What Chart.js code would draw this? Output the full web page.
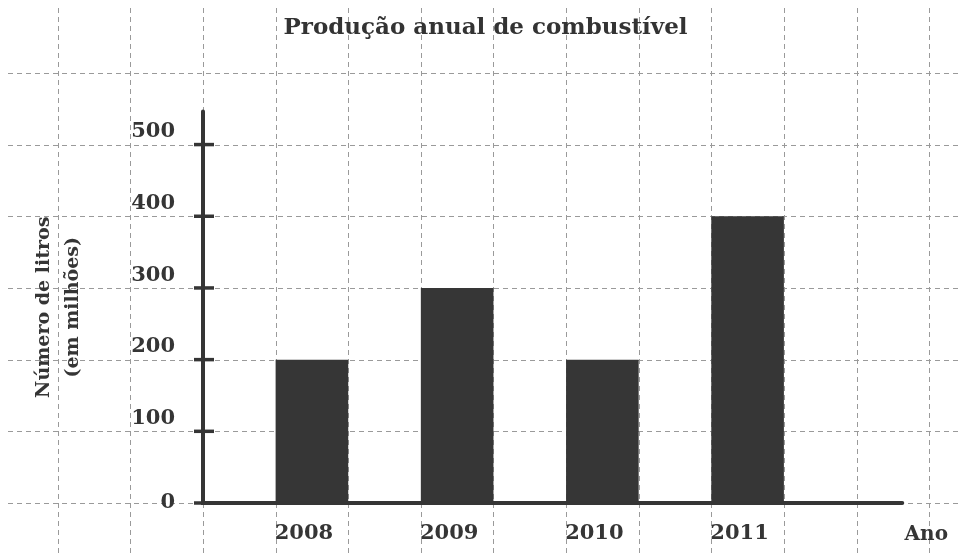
<!DOCTYPE html>
<html lang="pt">
<head>
  <meta charset="UTF-8">
  <title>Produção anual de combustível</title>
  <script src="https://cdn.jsdelivr.net/npm/chart.js"></script>
  <style>
    body {
      margin: 0;
      background-color: #ffffff;
    }
    #wrap {
      width: 960px;
      height: 553px;
    }
  </style>
</head>
<body>
  <div id="wrap"><canvas id="fuelChart"></canvas></div>

  <script>
    // Dados do gráfico
    const years = ['2008', '2009', '2010', '2011'];
    const litros = [200, 300, 200, 400];
    const yTicks = [0, 100, 200, 300, 400, 500];

    // Papel quadriculado (colunas em "casas", linhas em milhões de litros)
    const gridCols = [-2, -1, 0, 1, 2, 3, 4, 5, 6, 7, 8, 9, 10];
    const gridRows = [0, 100, 200, 300, 400, 500, 600];

    // cada ano ocupa uma casa, com uma casa vazia entre eles
    const slot = i => 1.5 + 2 * i;

    const serif = 'DejaVu Serif';
    const ink = '#353535';

    const paperGrid = {
      id: 'paperGrid',
      beforeDraw(chart) {
        const { ctx, scales: { x, y } } = chart;
        ctx.save();
        ctx.strokeStyle = '#9a9a9a';
        ctx.lineWidth = 1;
        ctx.setLineDash([5, 4]);
        gridCols.forEach(c => {
          const px = Math.round(x.getPixelForValue(c)) + 0.5;
          ctx.beginPath();
          ctx.moveTo(px, 8);
          ctx.lineTo(px, chart.height);
          ctx.stroke();
        });
        gridRows.forEach(v => {
          const py = Math.round(y.getPixelForValue(v)) + 0.5;
          ctx.beginPath();
          ctx.moveTo(8, py);
          ctx.lineTo(chart.width, py);
          ctx.stroke();
        });
        ctx.restore();
      }
    };

    // eixos grossos com marcas que cruzam o eixo vertical
    const thickAxes = {
      id: 'thickAxes',
      afterDatasetsDraw(chart) {
        const { ctx, scales: { x, y } } = chart;
        const x0 = x.getPixelForValue(0);
        const y0 = y.getPixelForValue(0);
        ctx.save();
        ctx.strokeStyle = ink;
        ctx.lineCap = 'round';
        ctx.lineWidth = 4;
        ctx.beginPath();
        ctx.moveTo(x0, y.getPixelForValue(546));
        ctx.lineTo(x0, y0);
        ctx.lineTo(x.getPixelForValue(9.63), y0);
        ctx.stroke();
        ctx.lineWidth = 3.5;
        ctx.lineCap = 'butt';
        yTicks.forEach(v => {
          const py = y.getPixelForValue(v);
          ctx.beginPath();
          ctx.moveTo(x0 - 9, py);
          ctx.lineTo(x0 + (v === 0 ? 0 : 11), py);
          ctx.stroke();
        });
        ctx.restore();
      }
    };

    const ctx = document.getElementById('fuelChart').getContext('2d');
    const fuelChart = new Chart(ctx, {
      type: 'bar',
      data: {
        datasets: [{
          label: 'Número de litros (em milhões)',
          data: litros.map((v, i) => ({ x: slot(i), y: v })),
          backgroundColor: '#363636',
          borderWidth: 0,
          categoryPercentage: 0.5,
          barPercentage: 1.0
        }]
      },
      options: {
        responsive: true,
        maintainAspectRatio: false,
        animation: false,
        layout: { padding: { left: 23, right: 12, top: 0, bottom: 0 } },
        plugins: {
          legend: { display: false },
          tooltip: { enabled: false },
          title: {
            display: true,
            text: 'Produção anual de combustível',
            color: '#333333',
            font: { family: serif, size: 23, weight: 'bold', lineHeight: 1.2 },
            padding: { top: 14, bottom: 70 }
          }
        },
        scales: {
          x: {
            type: 'linear',
            offset: false,
            min: 0,
            max: 10.26,
            grid: { display: false, offset: false },
            border: { display: false },
            afterBuildTicks: s => { s.ticks = years.map((_, i) => ({ value: slot(i) })); },
            afterFit: s => { s.height = 50; s.paddingLeft = 0; s.paddingRight = 0; },
            ticks: {
              autoSkip: false,
              maxRotation: 0,
              padding: 10,
              labelOffset: -8,
              color: ink,
              font: { family: serif, size: 21, weight: 'bold' },
              callback: (v, i) => years[i]
            },
            title: {
              display: true,
              text: 'Ano',
              align: 'end',
              color: ink,
              font: { family: serif, size: 20, weight: 'bold', lineHeight: 1.2 },
              padding: { top: 0, bottom: 6 }
            }
          },
          y: {
            min: 0,
            max: 546,
            grid: { display: false },
            border: { display: false },
            afterBuildTicks: s => { s.ticks = yTicks.map(v => ({ value: v })); },
            afterFit: s => { s.width = 180; s.paddingTop = 0; s.paddingBottom = 0; },
            ticks: {
              padding: 20,
              color: ink,
              font: { family: serif, size: 21, weight: 'bold', lineHeight: 1.2 },
              // rótulos ficam um pouco acima da marca, exceto o zero
              callback: v => v === 0 ? '0' : [String(v), '']
            },
            title: {
              display: true,
              text: ['Número de litros', '(em milhões)'],
              color: ink,
              font: { family: serif, size: 19, weight: 'bold', lineHeight: 1.55 },
              padding: { top: 6, bottom: 0 }
            }
          }
        }
      },
      plugins: [paperGrid, thickAxes]
    });
  </script>
</body>
</html>
